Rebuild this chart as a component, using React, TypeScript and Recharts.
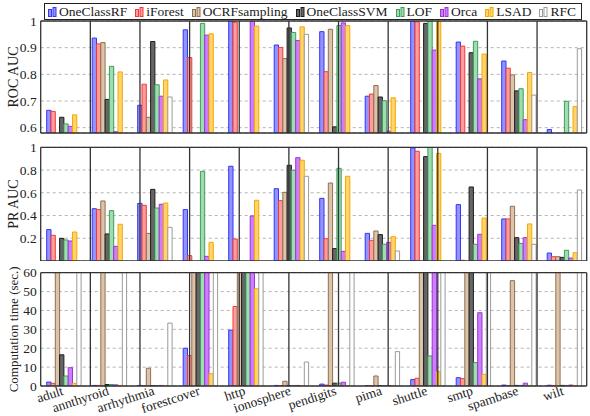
import React from 'react'
import { Bar, BarChart, CartesianGrid, Legend, ReferenceLine, XAxis, YAxis } from 'recharts'

const datasets = [
  'adult',
  'annthyroid',
  'arrhythmia',
  'forestcover',
  'http',
  'ionosphere',
  'pendigits',
  'pima',
  'shuttle',
  'smtp',
  'spambase',
  'wilt',
]

const methods = ['OneClassRF', 'iForest', 'OCRFsampling', 'OneClassSVM', 'LOF', 'Orca', 'LSAD', 'RFC']
const fills = ['#9393ff', '#ff9c9c', '#dcc4aa', '#666666', '#9fdcb0', '#cf7cff', '#ffd36e', '#ffffff']
const strokes = ['#3535f5', '#f03a3a', '#8f6f50', '#1e1e1e', '#3e9c5c', '#9a38d0', '#f5a800', '#9a9a9a']

// rows follow `methods`, columns follow `datasets`; null = bar not drawn
const rocAuc: (number | null)[][] = [
  [0.665, 0.936, 0.684, 0.967, 1.0, 0.91, 0.96, 0.718, 1.0, 0.921, 0.85, 0.593],
  [0.661, 0.914, 0.763, 0.863, 0.995, 0.901, 0.81, 0.726, 0.997, 0.906, 0.823, null],
  [null, 0.919, 0.639, null, null, 0.859, 0.969, 0.758, null, null, 0.798, null],
  [0.639, 0.706, 0.923, null, null, 0.974, 0.603, 0.715, 0.991, 0.881, 0.738, null],
  [0.614, 0.83, 0.761, 0.991, null, 0.957, 0.983, 0.701, 1.0, 0.924, 0.746, 0.699],
  [0.605, 0.585, 0.718, 0.947, 1.0, 0.927, 0.993, 0.587, 0.891, 0.783, 0.63, null],
  [0.648, 0.809, 0.779, 0.952, 0.981, 0.978, 0.983, 0.712, 1.0, 0.876, 0.807, 0.679],
  [null, null, 0.715, null, null, 0.95, null, null, null, null, 0.722, 0.896],
]

const prAuc: (number | null)[][] = [
  [0.276, 0.46, 0.507, 0.452, 0.833, 0.636, 0.551, 0.243, 0.995, 0.496, 0.37, 0.07],
  [0.226, 0.452, 0.49, 0.047, 0.194, 0.531, 0.196, 0.182, 0.965, 0.006, 0.37, 0.038],
  [null, 0.528, 0.243, null, null, 0.604, 0.686, 0.264, null, null, 0.481, 0.038],
  [0.199, 0.238, 0.63, null, null, 0.842, 0.109, 0.232, 0.918, 0.651, 0.205, 0.032],
  [0.185, 0.443, 0.466, 0.789, null, 0.798, 0.815, 0.147, 0.998, 0.147, 0.155, 0.094],
  [0.176, 0.129, 0.499, 0.041, 0.396, 0.909, 0.085, 0.164, 0.314, 0.235, 0.205, 0.026],
  [0.255, 0.323, 0.51, 0.164, 0.534, 0.886, 0.745, 0.214, 0.947, 0.378, 0.326, 0.073],
  [null, null, 0.296, null, null, 0.745, null, 0.088, null, null, 0.147, 0.625],
]

// seconds; 100 = off the 60 s scale (clipped at the top)
const timeSec: (number | null)[][] = [
  [2.1, 0.3, 0.3, 20, 29.6, 0.3, 1.0, 0.2, 3.4, 4.4, 0.5, 0.4],
  [1.4, 0.3, 0.2, 16.1, 42.1, 0.2, 0.5, 0.2, 4.1, 3.9, 0.3, 0.3],
  [100, 100, 9.4, 100, 100, 2.5, 100, 5.3, 100, 100, 55.8, 100],
  [16.5, 0.8, 0.1, 100, 100, 0.1, 1.5, 0.1, 100, 100, 0.3, 0.3],
  [5.3, 0.8, 0.1, 100, 100, 0.1, 1.5, 0.1, 15.9, 12.4, 0.3, 0.3],
  [9.7, 0.6, 0.3, 100, 100, 0.3, 2.0, 0.2, 100, 38.8, 1.5, 0.5],
  [1.4, 0.3, 0.2, 6.5, 51.5, 0.1, 0.3, 0.1, 7.6, 6.2, 0.3, 0.3],
  [100, 100, 33.3, 100, 100, 12.7, 100, 18.2, 100, 100, 100, 100],
]

const rocTicks = [0.6, 0.7, 0.8, 0.9, 1]
const prTicks = [0.2, 0.4, 0.6, 0.8, 1]
const timeTicks = [0, 10, 20, 30, 40, 50, 60]

const FONT = '"Liberation Serif", "DejaVu Serif", serif'
const INK = '#222'
const FRAME = '#333'

const groupEdges = datasets.map((_, i) => i).concat(datasets.length)
const groupCenters = datasets.map((_, i) => i + 0.5)

function toRows(matrix: (number | null)[][]) {
  return datasets.map((name, i) => {
    const row: Record<string, any> = { name }
    methods.forEach((m, j) => {
      row[m] = matrix[j][i]
    })
    return row
  })
}

function LegendIcon({ fill, stroke }: { fill: string; stroke: string }) {
  return (
    <svg width={9} height={11} style={{ marginRight: 2 }}>
      <rect x={0.5} y={3.5} width={3} height={7} fill={fill} stroke={stroke} />
      <rect x={5} y={1.5} width={3} height={9} fill={fill} stroke={stroke} />
    </svg>
  )
}

function LegendBox() {
  return (
    <div
      style={{
        display: 'flex',
        alignItems: 'center',
        justifyContent: 'space-between',
        boxSizing: 'border-box',
        height: 17,
        padding: '0 5px 0 3px',
        border: `1px solid ${INK}`,
        background: '#fff',
        fontFamily: FONT,
        fontSize: 13.5,
        lineHeight: 1,
        color: INK,
      }}
    >
      {methods.map((m, j) => (
        <span key={m} style={{ display: 'flex', alignItems: 'center' }}>
          <LegendIcon fill={fills[j]} stroke={strokes[j]} />
          {m}
        </span>
      ))}
    </div>
  )
}

function AngledTick({ x, y, payload }: any) {
  const ax = x - 2
  const ay = y - 1
  return (
    <text
      x={ax}
      y={ay}
      dy="0.66em"
      transform={`rotate(-18 ${ax} ${ay})`}
      textAnchor="end"
      fontFamily={FONT}
      fontSize={13.5}
      fill={INK}
    >
      {payload.value}
    </text>
  )
}

function Panel({
  top,
  height,
  marginTop,
  marginBottom,
  matrix,
  domain,
  ticks,
  title,
  titleSize,
  showNames,
  withLegend,
}: {
  top: number
  height: number
  marginTop: number
  marginBottom: number
  matrix: (number | null)[][]
  domain: [number, number]
  ticks: number[]
  title: string
  titleSize: number
  showNames?: boolean
  withLegend?: boolean
}) {
  return (
    <div style={{ position: 'absolute', left: 0, top }}>
      <BarChart
        width={590}
        height={height}
        data={toRows(matrix)}
        margin={{ top: marginTop, right: 3.3, bottom: marginBottom, left: 0 }}
        barGap={0}
        barSize={4.3}
      >
        <CartesianGrid vertical={false} stroke="#b4b4b4" strokeDasharray="3 3" />
        <XAxis
          dataKey="name"
          hide={!showNames}
          height={30}
          interval={0}
          tickSize={0}
          tickMargin={1}
          axisLine={false}
          tick={<AngledTick />}
        />
        <XAxis
          xAxisId="tb"
          type="number"
          domain={[0, datasets.length]}
          ticks={groupCenters}
          interval={0}
          orientation="bottom"
          mirror
          tick={false}
          tickSize={3}
          axisLine={false}
          stroke={FRAME}
        />
        <XAxis
          xAxisId="tt"
          type="number"
          domain={[0, datasets.length]}
          ticks={groupCenters}
          interval={0}
          orientation="top"
          mirror
          tick={false}
          tickSize={3}
          axisLine={false}
          stroke={FRAME}
        />
        <YAxis
          domain={domain}
          ticks={ticks}
          allowDataOverflow
          interval={0}
          width={40.7}
          tickLine={false}
          axisLine={false}
          tickSize={0}
          tickMargin={4}
          tick={{ fontFamily: FONT, fontSize: 13.5, fill: INK }}
          label={{
            value: title,
            angle: -90,
            position: 'insideLeft',
            offset: 13,
            style: { textAnchor: 'middle', fontFamily: FONT, fontSize: titleSize, fill: INK },
          }}
        />
        {methods.map((m, j) => (
          <Bar
            key={m}
            dataKey={m}
            fill={fills[j]}
            stroke={strokes[j]}
            strokeWidth={1}
            isAnimationActive={false}
          />
        ))}
        {groupEdges.map((e) => (
          <ReferenceLine key={e} xAxisId="tb" x={e} stroke={FRAME} strokeWidth={1.3} />
        ))}
        <ReferenceLine xAxisId="tb" y={domain[0]} stroke={FRAME} strokeWidth={1.3} />
        <ReferenceLine xAxisId="tb" y={domain[1]} stroke={FRAME} strokeWidth={1.3} />
        {withLegend && (
          <Legend
            layout="horizontal"
            verticalAlign="middle"
            align="center"
            wrapperStyle={{ position: 'absolute', top: 3, left: 44, width: 538, height: 17 }}
            content={() => <LegendBox />}
          />
        )}
      </BarChart>
    </div>
  )
}

export default function App() {
  return (
    <div
      style={{
        position: 'absolute',
        left: 0,
        top: 0,
        width: 590,
        height: 416,
        background: '#fff',
        overflow: 'hidden',
      }}
    >
      <Panel
        top={0}
        height={140}
        marginTop={21}
        marginBottom={7}
        matrix={rocAuc}
        domain={[0.58, 1]}
        ticks={rocTicks}
        title="ROC AUC"
        titleSize={14}
        withLegend
      />
      <Panel
        top={140}
        height={121}
        marginTop={7.3}
        marginBottom={0}
        matrix={prAuc}
        domain={[0, 1]}
        ticks={prTicks}
        title="PR AUC"
        titleSize={14}
      />
      <Panel
        top={256}
        height={160}
        marginTop={16.7}
        marginBottom={0}
        matrix={timeSec}
        domain={[0, 60]}
        ticks={timeTicks}
        title="Computation time (sec.)"
        titleSize={13}
        showNames
      />
    </div>
  )
}
